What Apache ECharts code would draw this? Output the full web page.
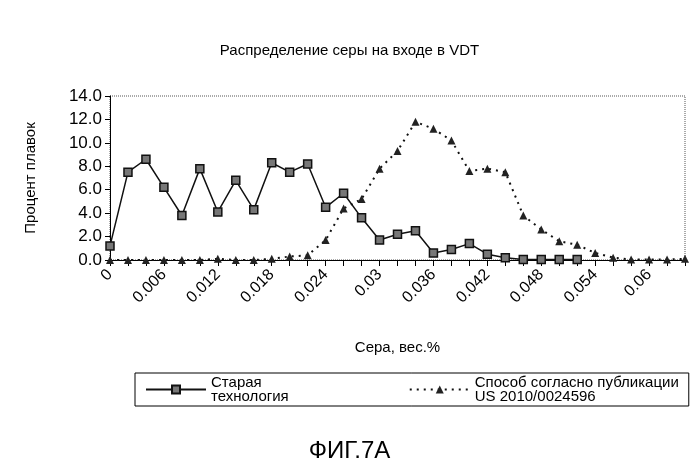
<!DOCTYPE html>
<html><head><meta charset="utf-8">
<script src="https://cdn.jsdelivr.net/npm/echarts@6/dist/echarts.min.js"></script>
<style>body{margin:0;background:#fff}#c{width:699px;height:464px}</style>
</head><body><div id="c"></div>
<script>
// категории: содержание серы, шаг 0.002
const sulfur = [];
for (let i = 0; i <= 32; i++) sulfur.push(String(+(i * 0.002).toFixed(3)));
const oldTech = [1.2,7.5,8.6,6.2,3.8,7.8,4.1,6.8,4.3,8.3,7.5,8.2,4.5,5.7,3.6,1.7,2.2,2.5,0.6,0.9,1.4,0.5,0.2,0.05,0.05,0.05,0.05,null,null,null,null,null,null];
const newTech = [0,0,0,0,0,0,0.1,0,0,0.1,0.3,0.4,1.7,4.4,5.2,7.8,9.3,11.8,11.2,10.2,7.6,7.8,7.5,3.8,2.6,1.6,1.3,0.6,0.2,0.05,0.05,0.05,0.1];
const yTicks = [0,14,2];

const chart = echarts.init(document.getElementById('c'));
const font = 'Liberation Sans';
chart.setOption({
  animation:false,
  textStyle:{fontFamily:font,color:'#000'},
  title:[
    {text:'Распределение серы на входе в VDT',left:'center',top:38,textStyle:{fontSize:15,fontWeight:'normal',color:'#000',fontFamily:font}},
    {text:'ФИГ.7А',left:'center',top:434,textStyle:{fontSize:24,fontWeight:'normal',color:'#000',fontFamily:font}}
  ],
  grid:{left:110,right:14,top:96,bottom:204,show:true,borderColor:'#555',borderType:'dotted',borderWidth:1},
  legend:{
    left:135,top:373,itemGap:120,itemWidth:60,itemHeight:10,
    borderColor:'#000',borderWidth:1,padding:[2,10],
    textStyle:{fontSize:15,lineHeight:14,color:'#000',fontFamily:font},
    data:['Старая\nтехнология','Способ согласно публикации\nUS 2010/0024596']
  },
  xAxis:{type:'category',data:sulfur,boundaryGap:false,
    name:'Сера, вес.%',nameLocation:'middle',nameGap:80,nameTextStyle:{fontSize:15,color:'#000'},
    axisLine:{lineStyle:{color:'#000'}},axisTick:{interval:0,length:6,lineStyle:{color:'#000'}},
    axisLabel:{interval:2,rotate:45,fontSize:16,color:'#000',margin:12}},
  yAxis:{type:'value',min:yTicks[0],max:yTicks[1],interval:yTicks[2],
    name:'Процент плавок',nameLocation:'middle',nameGap:72,nameTextStyle:{fontSize:15,color:'#000'},
    axisLine:{show:true,lineStyle:{color:'#000'}},axisTick:{show:true,lineStyle:{color:'#000'}},
    splitLine:{show:false},axisLabel:{fontSize:17,color:'#000',formatter:v=>v.toFixed(1)}},
  series:[
    {name:'Старая\nтехнология',type:'line',data:oldTech,symbol:'rect',symbolSize:8,
     lineStyle:{color:'#111',width:1.5},itemStyle:{color:'#777',borderColor:'#111',borderWidth:1.5}},
    {name:'Способ согласно публикации\nUS 2010/0024596',type:'line',data:newTech,symbol:'triangle',symbolSize:8,
     lineStyle:{color:'#111',width:2,type:[2,5]},itemStyle:{color:'#222'}}
  ]
});
</script></body></html>
